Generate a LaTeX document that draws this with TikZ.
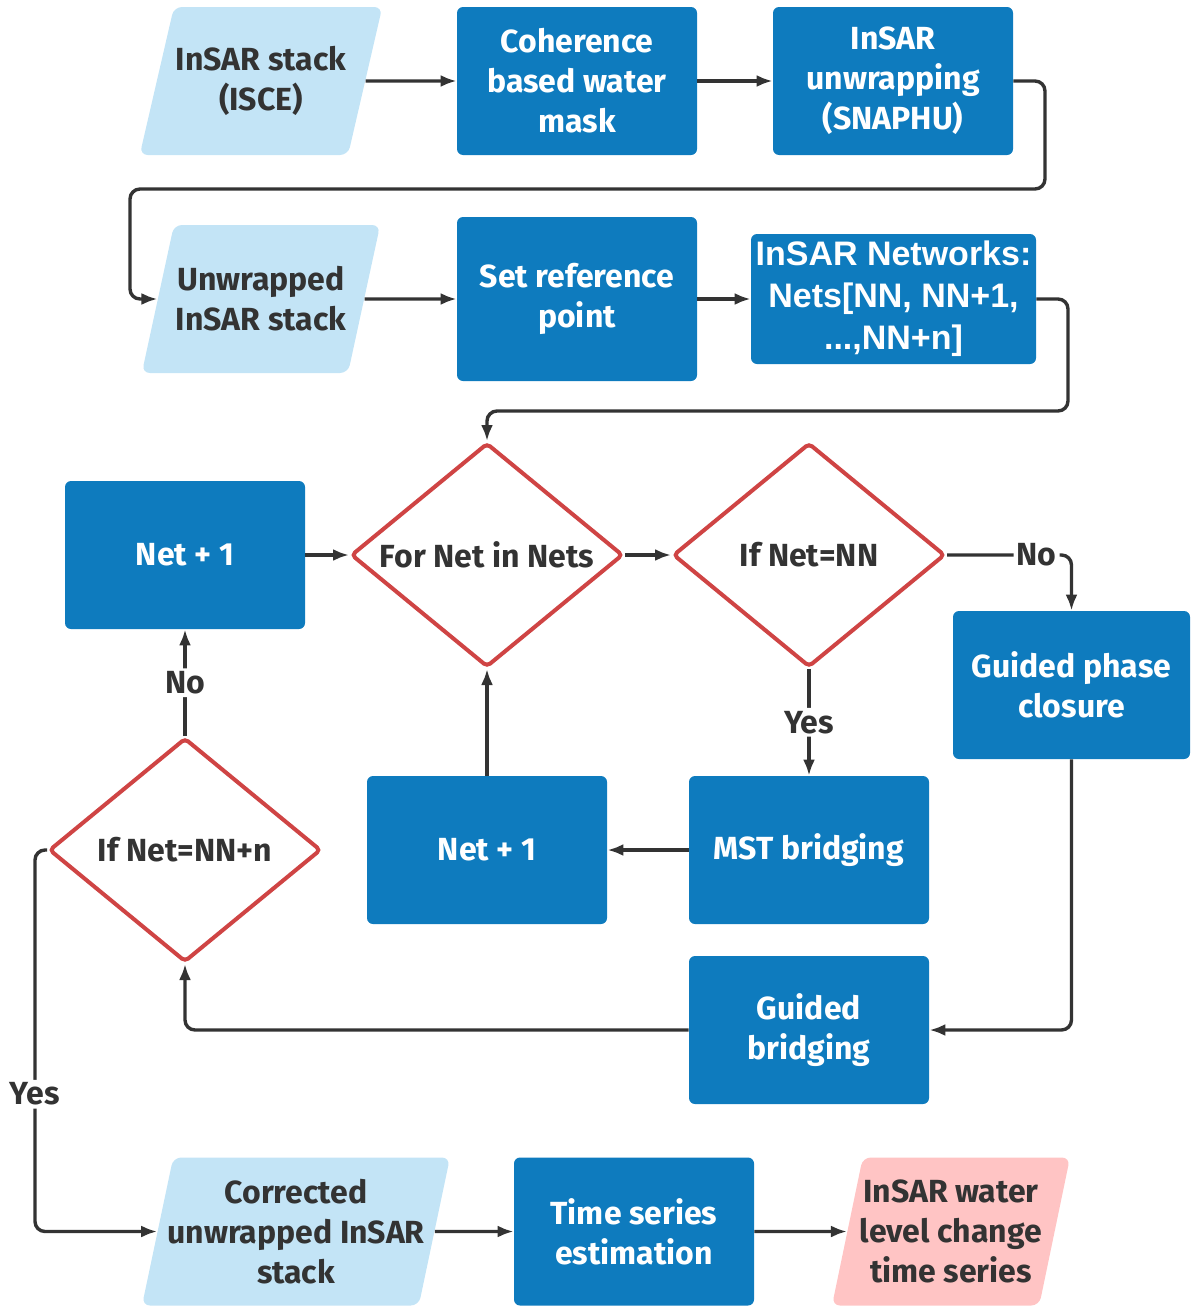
\documentclass[tikz,border=0pt]{standalone}
\usepackage{fontspec}
\setmainfont{Fira Sans}
\newfontfamily\netsfont{Liberation Sans}
\usetikzlibrary{arrows.meta,positioning,shapes.geometric}
\definecolor{wfBlue}{HTML}{0E7BBE}
\definecolor{wfSky} {HTML}{C3E4F6}
\definecolor{wfPink}{HTML}{FFC4C4}
\definecolor{wfRed} {HTML}{CF4444}
\definecolor{wfInk} {HTML}{333333}

\begin{document}
\begin{tikzpicture}[x=0.5pt,y=-0.5pt,
    font=\fontsize{16}{20}\selectfont\bfseries,
    procbox/.style={rectangle,fill=wfBlue,text=white,rounded corners=3pt,
      align=center,minimum width=120pt,minimum height=74pt,inner sep=2pt},
    databox/.style={trapezium,trapezium left angle=65,trapezium right angle=115,
      trapezium stretches body,fill=wfSky,text=wfInk,rounded corners=4pt,
      align=center,minimum width=119pt,minimum height=74pt,inner sep=1pt},
    tallbox/.style={databox,trapezium left angle=74,trapezium right angle=106},
    outbox/.style={tallbox,fill=wfPink},
    decision/.style={diamond,draw=wfRed,line width=2pt,fill=white,text=wfInk,
      aspect=1.22,minimum width=136pt,minimum height=112pt,inner sep=0pt,
      rounded corners=2pt},
    flow/.style={draw=wfInk,line width=1.7pt,rounded corners=5pt,
      -{Latex[length=8pt,width=6pt]}},
    answer/.style={fill=white,text=wfInk,inner sep=1.5pt}]
  \useasboundingbox (0,0) rectangle (1190,1306);

  % inputs and preprocessing
  \node[databox] (stack) at (261,81) {InSAR stack\\(ISCE)};
  \node[procbox] (mask) at (577,81) {Coherence\\based water\\mask};
  \node[procbox] (unwrap) at (893,81) {InSAR\\unwrapping\\(SNAPHU)};
  \node[databox] (unwstack) at (261,299) {Unwrapped\\InSAR stack};
  \node[procbox,minimum height=82pt] (refpt) at (577,299) {Set reference\\point};
  \node[procbox,minimum width=142.5pt,minimum height=65pt,inner sep=0pt,
        font=\netsfont\fontsize{17}{21}\selectfont\bfseries] (nets) at (893.5,299)
    {InSAR Networks:\\Nets[NN, NN+1,\\...,NN+n]};

  % network loop
  \node[procbox] (netA) at (185,555) {Net + 1};
  \node[decision] (fornet) at (487,555) {For Net in Nets};
  \node[decision] (ifnn) at (809,555) {If Net=NN};
  \node[procbox,minimum width=118.5pt] (gpc) at (1071.5,685) {Guided phase\\closure};
  \node[decision] (ifnnn) at (185,850) {If Net=NN+n};
  \node[procbox] (netB) at (487,850) {Net + 1};
  \node[procbox] (mst) at (809,850) {MST bridging};
  \node[procbox] (gbr) at (809,1030) {Guided\\bridging};

  % outputs
  \node[tallbox,minimum width=154pt,inner xsep=-10pt] (corr) at (296,1231.5)
    {Corrected\\unwrapped InSAR\\stack};
  \node[procbox] (tse) at (634,1231.5) {Time series\\estimation};
  \node[outbox,inner xsep=-4pt] (wl) at (951,1231.5) {InSAR water\\level change\\time series};

  \coordinate (loopA) at (1045,189);
  \coordinate (loopB) at (130,189);
  \coordinate (loopC) at (1068,411);
  \coordinate (loopD) at (35,850);

  \draw[flow] (stack) -- (mask);
  \draw[flow] (mask) -- (unwrap);
  \draw[flow] (unwrap.east) -| (loopA) -- (loopB) |- (unwstack.west);
  \draw[flow] (unwstack) -- (refpt);
  \draw[flow] (refpt) -- (nets);
  \draw[flow] (nets.east) -| (loopC) -| (fornet.north);
  \draw[flow] (netA) -- (fornet);
  \draw[flow] (fornet) -- (ifnn);
  \draw[flow] (ifnn.east) -| node[answer,pos=0.36]{No} (gpc.north);
  \draw[flow] (ifnn.south) -- node[answer]{Yes} (mst.north);
  \draw[flow] (mst) -- (netB);
  \draw[flow] (netB.north) -- (fornet.south);
  \draw[flow] (ifnnn.north) -- node[answer]{No} (netA.south);
  \draw[flow] (gpc.south) |- (gbr.east);
  \draw[flow] (gbr.west) -| (ifnnn.south);
  \draw[flow] (ifnnn.west) -- (loopD) |- node[answer,pos=0.32]{Yes} (corr.west);
  \draw[flow] (corr) -- (tse);
  \draw[flow] (tse) -- (wl);
\end{tikzpicture}
\end{document}
